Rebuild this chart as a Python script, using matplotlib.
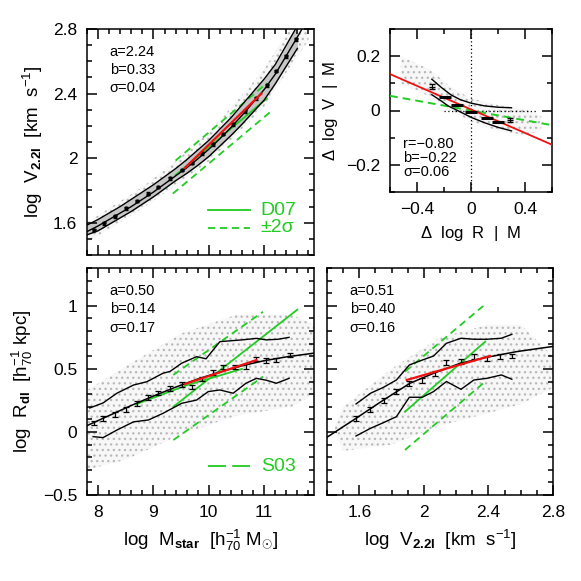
import matplotlib
matplotlib.use("Agg")
import matplotlib.pyplot as plt
from matplotlib.ticker import MultipleLocator, FuncFormatter

plt.rcParams['font.family'] = ['Liberation Sans', 'DejaVu Sans']
plt.rcParams['mathtext.fontset'] = 'custom'
plt.rcParams['mathtext.rm'] = 'Liberation Sans'
plt.rcParams['mathtext.it'] = 'Liberation Sans'
plt.rcParams['mathtext.bf'] = 'Liberation Sans:bold'
plt.rcParams['hatch.linewidth'] = 0.9

GREEN = '#22cc22'
RED = '#ee1111'
CLOUD_FACE = '#f7f7f7'
CLOUD_HATCH = '#b8b8b8'
BAND = '#c6c6c6'
DASH = (0, (4, 2.6))

# ---------------- Top-left: log V vs log M ----------------
tl_cloud_x = [7.8, 8.2, 8.8, 9.4, 10.0, 10.6, 11.0, 11.4, 11.8]
tl_cloud_lo = [1.48, 1.56, 1.69, 1.83, 1.98, 2.18, 2.32, 2.53, 2.73]
tl_cloud_hi = [1.60, 1.69, 1.82, 1.98, 2.16, 2.39, 2.55, 2.77, 2.94]
tl_env_x = [7.8, 8.0, 8.2, 8.4, 8.6, 8.8, 9.0, 9.2, 9.4, 9.6, 9.8, 10.0,
            10.2, 10.4, 10.6, 10.8, 11.0, 11.2, 11.4, 11.6]
tl_env_hi = [1.585, 1.62, 1.66, 1.70, 1.745, 1.79, 1.835, 1.885, 1.935, 1.99,
             2.05, 2.11, 2.18, 2.25, 2.33, 2.41, 2.49, 2.58, 2.70, 2.82]
tl_env_lo = [1.525, 1.55, 1.59, 1.63, 1.67, 1.715, 1.76, 1.81, 1.86, 1.905,
             1.955, 2.01, 2.075, 2.14, 2.21, 2.285, 2.36, 2.46, 2.57, 2.68]
tl_med_x = [7.8, 8.0, 8.2, 8.4, 8.6, 8.8, 9.0, 9.2, 9.4, 9.6, 9.8, 10.0,
            10.2, 10.4, 10.6, 10.8, 11.0, 11.2, 11.4, 11.6, 11.8]
tl_med_y = [1.545, 1.58, 1.62, 1.66, 1.70, 1.745, 1.79, 1.84, 1.89, 1.94,
            1.995, 2.055, 2.12, 2.19, 2.265, 2.345, 2.425, 2.52, 2.635, 2.75, 2.87]
tl_pts_x = [7.92, 8.1, 8.3, 8.5, 8.7, 8.9, 9.09, 9.3, 9.51, 9.69, 9.87, 10.08,
            10.26, 10.44, 10.65, 10.86, 11.05, 11.22, 11.4, 11.57]
tl_pts_y = [1.555, 1.596, 1.64, 1.689, 1.734, 1.78, 1.82, 1.875, 1.926, 1.97,
            2.03, 2.085, 2.15, 2.21, 2.29, 2.37, 2.45, 2.54, 2.63, 2.735]
tl_pts_err = [0.008] * 20
tl_red_x = [9.57, 10.95]
tl_red_y = [1.94, 2.40]
tl_d07_x = [9.4, 11.05]
tl_d07_y = [1.895, 2.37]
tl_d07_up_y = [1.985, 2.465]
tl_d07_lo_x = [9.35, 11.16]
tl_d07_lo_y = [1.78, 2.30]

# ---------------- Top-right: residuals ----------------
tr_cloud_x = [-0.52, -0.3, -0.15, 0.0, 0.2, 0.4, 0.52]
tr_cloud_hi = [0.20, 0.15, 0.085, 0.045, 0.02, 0.005, -0.02]
tr_cloud_lo = [0.10, 0.05, 0.0, -0.04, -0.075, -0.09, -0.075]
tr_env_up_x = [-0.29, -0.22, -0.15, -0.08, 0.0, 0.1, 0.2, 0.3]
tr_env_up_y = [0.115, 0.085, 0.058, 0.04, 0.027, 0.017, 0.012, 0.01]
tr_env_lo_x = [-0.29, -0.22, -0.17, -0.1, 0.0, 0.1, 0.2, 0.3]
tr_env_lo_y = [0.058, 0.035, 0.017, 0.0, -0.025, -0.045, -0.062, -0.075]
tr_med_x = [-0.193, -0.106, 0.0, 0.116, 0.2]
tr_med_y = [0.051, 0.02, -0.004, -0.029, -0.041]
tr_end_x = [-0.29, 0.29]
tr_end_y = [0.088, -0.035]
tr_red_x = [-0.6, 0.6]
tr_red_y = [0.134, -0.126]
tr_grn_x = [-0.6, 0.6]
tr_grn_y = [0.054, -0.054]

# ---------------- Bottom-left: log R vs log M ----------------
bl_cloud_x = [7.8, 8.5, 9.5, 10.5, 11.5, 11.9]
bl_cloud_lo = [-0.30, -0.22, -0.02, 0.13, 0.20, 0.30]
bl_cloud_hi = [0.33, 0.52, 0.78, 0.93, 0.93, 0.85]
bl_fit_x = [7.8, 8.2, 8.6, 9.0, 9.4, 9.8, 10.2, 10.6, 11.0, 11.4, 11.9]
bl_fit_y = [0.05, 0.13, 0.21, 0.285, 0.355, 0.42, 0.475, 0.525, 0.565, 0.595, 0.625]
bl_up_x = [7.85, 8.09, 8.34, 8.64, 8.88, 9.17, 9.3, 9.51, 9.78, 9.95, 10.2,
           10.6, 10.86, 11.04, 11.25, 11.45]
bl_up_y = [0.19, 0.23, 0.307, 0.372, 0.398, 0.465, 0.48, 0.545, 0.597, 0.58,
           0.716, 0.73, 0.742, 0.73, 0.735, 0.75]
bl_lo_x = [7.91, 8.09, 8.34, 8.64, 8.91, 9.17, 9.51, 9.78, 9.99, 10.2, 10.44,
           10.67, 10.86, 11.04, 11.22, 11.45]
bl_lo_y = [-0.037, -0.045, 0.015, 0.08, 0.095, 0.147, 0.227, 0.253, 0.32,
           0.333, 0.307, 0.386, 0.425, 0.41, 0.386, 0.425]
bl_pts_x = [7.93, 8.09, 8.31, 8.50, 8.70, 8.91, 9.09, 9.30, 9.51, 9.69, 9.87,
            10.08, 10.26, 10.47, 10.67, 10.86, 11.04, 11.22, 11.46]
bl_pts_y = [0.07, 0.105, 0.14, 0.18, 0.225, 0.275, 0.31, 0.345, 0.375, 0.355,
            0.42, 0.47, 0.515, 0.515, 0.52, 0.58, 0.565, 0.57, 0.61]
bl_pts_err = [0.018] * 19
bl_red_x = [9.57, 10.86]
bl_red_y = [0.38, 0.57]
bl_s03a_x = [8.7, 9.6, 10.6]
bl_s03a_y = [0.222, 0.37, 0.50]
bl_s03b_x = [9.36, 11.6]
bl_s03b_y = [0.20, 0.97]
bl_s03_up_x = [9.36, 10.98]
bl_s03_up_y = [0.452, 0.953]
bl_s03_lo_x = [9.36, 10.98]
bl_s03_lo_y = [-0.064, 0.438]

# ---------------- Bottom-right: log R vs log V ----------------
br_cloud_x = [1.45, 1.5, 1.8, 2.1, 2.4, 2.6, 2.8]
br_cloud_lo = [0.0, -0.15, -0.10, 0.05, 0.15, 0.22, 0.35]
br_cloud_hi = [0.05, 0.20, 0.50, 0.75, 0.85, 0.85, 0.60]
br_fit_x = [1.4, 1.58, 1.75, 1.914, 2.06, 2.224, 2.39, 2.575, 2.8]
br_fit_y = [-0.042, 0.108, 0.253, 0.386, 0.465, 0.544, 0.592, 0.637, 0.678]
br_up_x = [1.58, 1.67, 1.75, 1.83, 1.91, 1.99, 2.06, 2.14, 2.23, 2.31, 2.39, 2.48, 2.545]
br_up_y = [0.222, 0.307, 0.354, 0.412, 0.531, 0.57, 0.602, 0.703, 0.743, 0.735, 0.735, 0.743, 0.774]
br_lo_x = [1.58, 1.67, 1.75, 1.83, 1.91, 1.99, 2.06, 2.14, 2.23, 2.31, 2.39, 2.48, 2.545]
br_lo_y = [-0.032, 0.029, 0.074, 0.121, 0.275, 0.275, 0.32, 0.40, 0.338, 0.412, 0.425, 0.452, 0.418]
br_pts_x = [1.58, 1.666, 1.75, 1.83, 1.91, 1.99, 2.07, 2.14, 2.23, 2.31, 2.39, 2.47, 2.545]
br_pts_y = [0.108, 0.18, 0.25, 0.32, 0.386, 0.41, 0.465, 0.55, 0.557, 0.597, 0.581, 0.597, 0.602]
br_pts_err = [0.018] * 13
br_red_x = [1.894, 2.41]
br_red_y = [0.412, 0.602]
br_g_x = [1.883, 2.38]
br_g_y = [0.16, 0.716]
br_g_up_x = [1.883, 2.368]
br_g_up_y = [0.478, 0.999]
br_g_lo_x = [1.883, 2.368]
br_g_lo_y = [-0.143, 0.386]


def fmt(v, pos):
    s = '{:g}'.format(round(v, 6))
    return s.replace('-', '\u2212')


def style(ax, xmaj, xmin, ymaj, ymin):
    ax.xaxis.set_major_locator(MultipleLocator(xmaj))
    ax.xaxis.set_minor_locator(MultipleLocator(xmin))
    ax.yaxis.set_major_locator(MultipleLocator(ymaj))
    ax.yaxis.set_minor_locator(MultipleLocator(ymin))
    ax.xaxis.set_major_formatter(FuncFormatter(fmt))
    ax.yaxis.set_major_formatter(FuncFormatter(fmt))
    ax.tick_params(which='both', direction='in', top=True, right=True,
                   width=1.1, labelsize=12.5, pad=7)
    ax.tick_params(which='major', length=7.5)
    ax.tick_params(which='minor', length=3.8)
    for s in ax.spines.values():
        s.set_linewidth(1.1)


def cloud(ax, x, lo, hi):
    ax.fill_between(x, lo, hi, facecolor=CLOUD_FACE, edgecolor=CLOUD_HATCH,
                    hatch='...', linewidth=0, zorder=1)


fig = plt.figure(figsize=(5.81, 5.81), dpi=100)
W = 581.0

def axes_px(l, t, r, b):
    return fig.add_axes([l / W, 1 - b / W, (r - l) / W, (b - t) / W])

ax1 = axes_px(87, 29, 314, 255)
ax2 = axes_px(390, 29, 552, 192)
ax3 = axes_px(87, 268, 314, 495)
ax4 = axes_px(327, 268, 553, 495)

lab_fs = 13.5
ann_fs = 10.5

# --- TL
cloud(ax1, tl_cloud_x, tl_cloud_lo, tl_cloud_hi)
ax1.fill_between(tl_env_x, tl_env_lo, tl_env_hi, color=BAND, lw=0, zorder=1.5)
ax1.plot(tl_env_x, tl_env_hi, color='k', lw=1.0, zorder=3)
ax1.plot(tl_env_x, tl_env_lo, color='k', lw=1.0, zorder=3)
ax1.plot(tl_med_x, tl_med_y, color='k', lw=1.0, zorder=3)
ax1.errorbar(tl_pts_x, tl_pts_y, yerr=tl_pts_err, fmt='o', ms=2, color='k',
             capsize=1.5, elinewidth=0.8, zorder=4)
ax1.plot(tl_d07_x, tl_d07_y, color=GREEN, lw=1.3, zorder=2)
ax1.plot(tl_d07_x, tl_d07_up_y, color=GREEN, lw=1.3, ls=DASH, zorder=2)
ax1.plot(tl_d07_lo_x, tl_d07_lo_y, color=GREEN, lw=1.3, ls=DASH, zorder=2)
ax1.plot(tl_red_x, tl_red_y, color=RED, lw=1.6, zorder=5)
ax1.set_xlim(7.8, 11.9)
ax1.set_ylim(1.4, 2.8)
style(ax1, 1, 0.2, 0.4, 0.1)
ax1.set_xticklabels([])
ax1.set_ylabel(r'log  V$_{\mathbf{2.2I}}$  [km  s$^{-1}$]', fontsize=lab_fs, labelpad=6)
ax1.text(0.10, 0.88, 'a=2.24', transform=ax1.transAxes, fontsize=ann_fs)
ax1.text(0.10, 0.80, 'b=0.33', transform=ax1.transAxes, fontsize=ann_fs)
ax1.text(0.10, 0.72, '\u03c3=0.04', transform=ax1.transAxes, fontsize=ann_fs)
ax1.plot([0.535, 0.72], [0.197, 0.197], transform=ax1.transAxes, color=GREEN, lw=1.3)
ax1.plot([0.535, 0.72], [0.12, 0.12], transform=ax1.transAxes, color=GREEN, lw=1.3,
         ls=DASH)
ax1.text(0.765, 0.197, 'D07', transform=ax1.transAxes, color=GREEN, fontsize=14, va='center')
ax1.text(0.765, 0.12, '\u00b12\u03c3', transform=ax1.transAxes, color=GREEN, fontsize=14, va='center')

# --- TR
cloud(ax2, tr_cloud_x, tr_cloud_lo, tr_cloud_hi)
ax2.axvline(0, color='k', lw=0.9, ls=(0, (1, 2)), zorder=2)
ax2.plot([-0.2, 0.48], [0, 0], color='k', lw=0.9, ls=(0, (1, 2)), zorder=2)
ax2.plot(tr_grn_x, tr_grn_y, color=GREEN, lw=1.4, ls=DASH, zorder=3)
ax2.plot(tr_red_x, tr_red_y, color=RED, lw=1.3, zorder=4)
ax2.plot(tr_env_up_x, tr_env_up_y, color='k', lw=1.0, zorder=5)
ax2.plot(tr_env_lo_x, tr_env_lo_y, color='k', lw=1.0, zorder=5)
ax2.plot(tr_med_x, tr_med_y, ls='none', marker='_', ms=8, mew=2.2, color='k', zorder=6)
ax2.errorbar(tr_end_x, tr_end_y, yerr=0.008, fmt='_', ms=5, mew=1, color='k',
             capsize=2, elinewidth=0.8, zorder=6)
ax2.set_xlim(-0.6, 0.6)
ax2.set_ylim(-0.3, 0.3)
style(ax2, 0.4, 0.2, 0.2, 0.1)
ax2.set_xlabel(r'$\Delta$  log  R  |  M', fontsize=12, labelpad=5)
ax2.set_ylabel(r'$\Delta$  log  V  |  M', fontsize=12, labelpad=4)
ax2.text(0.08, 0.27, 'r=\u22120.80', transform=ax2.transAxes, fontsize=ann_fs)
ax2.text(0.08, 0.185, 'b=\u22120.22', transform=ax2.transAxes, fontsize=ann_fs)
ax2.text(0.08, 0.10, '\u03c3=0.06', transform=ax2.transAxes, fontsize=ann_fs)

# --- BL
cloud(ax3, bl_cloud_x, bl_cloud_lo, bl_cloud_hi)
ax3.plot(bl_s03a_x, bl_s03a_y, color=GREEN, lw=1.3, zorder=2)
ax3.plot(bl_s03b_x, bl_s03b_y, color=GREEN, lw=1.3, zorder=2)
ax3.plot(bl_s03_up_x, bl_s03_up_y, color=GREEN, lw=1.3, ls=DASH, zorder=2)
ax3.plot(bl_s03_lo_x, bl_s03_lo_y, color=GREEN, lw=1.3, ls=DASH, zorder=2)
ax3.plot(bl_fit_x, bl_fit_y, color='k', lw=1.1, zorder=3)
ax3.plot(bl_up_x, bl_up_y, color='k', lw=1.0, zorder=3)
ax3.plot(bl_lo_x, bl_lo_y, color='k', lw=1.0, zorder=3)
ax3.errorbar(bl_pts_x, bl_pts_y, yerr=bl_pts_err, fmt='none', color='k',
             capsize=2.5, elinewidth=0.9, capthick=0.9, zorder=4)
ax3.plot(bl_red_x, bl_red_y, color=RED, lw=1.6, zorder=5)
ax3.set_xlim(7.8, 11.9)
ax3.set_ylim(-0.5, 1.3)
style(ax3, 1, 0.2, 0.5, 0.1)
ax3.set_xlabel(r'log  M$_{\mathbf{star}}$  [h$_{70}^{-1}$ M$_{\odot}$]', fontsize=lab_fs, labelpad=6)
ax3.set_ylabel(r'log  R$_{\mathbf{dI}}$  [h$_{70}^{-1}$ kpc]', fontsize=lab_fs, labelpad=6)
ax3.text(0.10, 0.88, 'a=0.50', transform=ax3.transAxes, fontsize=ann_fs)
ax3.text(0.10, 0.80, 'b=0.14', transform=ax3.transAxes, fontsize=ann_fs)
ax3.text(0.10, 0.72, '\u03c3=0.17', transform=ax3.transAxes, fontsize=ann_fs)
ax3.plot([0.535, 0.72], [0.126, 0.126], transform=ax3.transAxes, color=GREEN, lw=1.3,
         ls=(0, (10, 3.4)))
ax3.text(0.765, 0.126, 'S03', transform=ax3.transAxes, color=GREEN, fontsize=14, va='center')

# --- BR
cloud(ax4, br_cloud_x, br_cloud_lo, br_cloud_hi)
ax4.plot(br_g_x, br_g_y, color=GREEN, lw=1.3, zorder=2)
ax4.plot(br_g_up_x, br_g_up_y, color=GREEN, lw=1.3, ls=DASH, zorder=2)
ax4.plot(br_g_lo_x, br_g_lo_y, color=GREEN, lw=1.3, ls=DASH, zorder=2)
ax4.plot(br_fit_x, br_fit_y, color='k', lw=1.1, zorder=3)
ax4.plot(br_up_x, br_up_y, color='k', lw=1.0, zorder=3)
ax4.plot(br_lo_x, br_lo_y, color='k', lw=1.0, zorder=3)
ax4.errorbar(br_pts_x, br_pts_y, yerr=br_pts_err, fmt='none', color='k',
             capsize=2.5, elinewidth=0.9, capthick=0.9, zorder=4)
ax4.plot(br_red_x, br_red_y, color=RED, lw=1.6, zorder=5)
ax4.set_xlim(1.4, 2.8)
ax4.set_ylim(-0.5, 1.3)
style(ax4, 0.4, 0.1, 0.5, 0.1)
ax4.set_yticklabels([])
ax4.set_xlabel(r'log  V$_{\mathbf{2.2I}}$  [km  s$^{-1}$]', fontsize=lab_fs, labelpad=6)
ax4.text(0.10, 0.88, 'a=0.51', transform=ax4.transAxes, fontsize=ann_fs)
ax4.text(0.10, 0.80, 'b=0.40', transform=ax4.transAxes, fontsize=ann_fs)
ax4.text(0.10, 0.72, '\u03c3=0.16', transform=ax4.transAxes, fontsize=ann_fs)

fig.savefig('out.png', dpi=100)
